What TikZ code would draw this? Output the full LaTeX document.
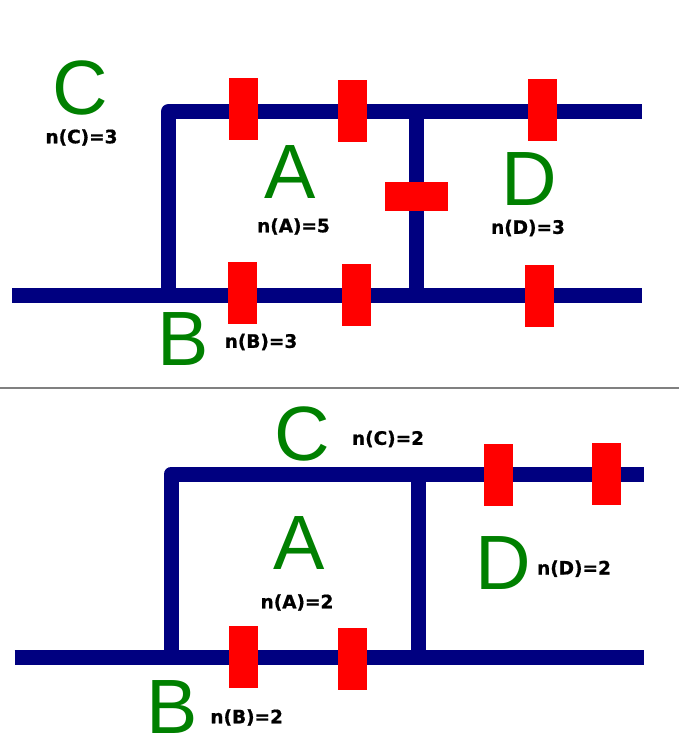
\documentclass[tikz,border=0pt]{standalone}
\usepackage{fontspec}
\setmainfont{Liberation Sans}
\newfontfamily\lblfont{DejaVu Sans Bold}[FakeBold=0.8]
\definecolor{navyc}{RGB}{0,0,128}
\definecolor{greenc}{RGB}{0,128,0}
\begin{document}
\begin{tikzpicture}[x=1pt,y=-1pt,
  track/.style={draw=navyc,line width=15pt,line join=round},
  vbar/.style={fill=red,inner sep=0pt,minimum width=29pt,minimum height=62pt},
  hbar/.style={fill=red,inner sep=0pt,minimum width=63pt,minimum height=29pt},
  big/.style={text=greenc,inner sep=0pt,font=\fontsize{77}{80}\selectfont},
  lbl/.style={inner sep=0pt,font=\lblfont\fontsize{18.5}{20}\selectfont}]
\useasboundingbox (0,0) rectangle (679,749);
% ---------- top panel ----------
\coordinate (tBL) at (168.5,295);
\coordinate (tTL) at (168.5,111.5);
\coordinate (tTR) at (641.5,111.5);
\coordinate (tL) at (12,295);
\coordinate (tR) at (641.5,295);
\coordinate (tJt) at (416.5,111.5);
\coordinate (tJb) at (416.5,295);
\draw[track] (tBL) -- (tTL) -- (tTR);
\draw[track] (tL) -- (tR);
\draw[track] (tJt) -- (tJb);
\node[vbar] (tr1) at (243.5,109) {};
\node[vbar] (tr2) at (352.2,111) {};
\node[vbar] (tr3) at (542.8,110) {};
\node[hbar] (tr4) at (416.7,196.7) {};
\node[vbar] (tb1) at (242.7,292.5) {};
\node[vbar] (tb2) at (356.2,294.7) {};
\node[vbar] (tb3) at (539.5,295.7) {};
\node[big] (tC) at (80,87.5) {C};
\node[lbl] (tnC) at (81.5,137.5) {n(C)=3};
\node[big] (tA) at (290,172) {A};
\node[lbl] (tnA) at (293.5,226.5) {n(A)=5};
\node[big] (tB) at (183.5,339) {B};
\node[lbl] (tnB) at (261,342) {n(B)=3};
\node[big] (tD) at (529.5,179) {D};
\node[lbl] (tnD) at (528,228) {n(D)=3};
% ---------- separator ----------
\coordinate (sL) at (0,388);
\coordinate (sR) at (679,388);
\draw[gray,line width=1.5pt] (sL) -- (sR);
% ---------- bottom panel ----------
\coordinate (bBL) at (171,657);
\coordinate (bTL) at (171,474);
\coordinate (bTR) at (643.5,474);
\coordinate (bL) at (14.5,657);
\coordinate (bR) at (643.5,657);
\coordinate (bJt) at (418.5,474);
\coordinate (bJb) at (418.5,657);
\draw[track] (bBL) -- (bTL) -- (bTR);
\draw[track] (bL) -- (bR);
\draw[track] (bJt) -- (bJb);
\node[vbar] (bb1) at (243.7,657.2) {};
\node[vbar] (bb2) at (352.8,658.7) {};
\node[vbar] (bt1) at (498.8,474.7) {};
\node[vbar] (bt2) at (606.3,473.8) {};
\node[big] (bC) at (302,433.7) {C};
\node[lbl] (bnC) at (388,439) {n(C)=2};
\node[big] (bA) at (299.5,543) {A};
\node[lbl] (bnA) at (297,602.5) {n(A)=2};
\node[big] (bB) at (172,706.7) {B};
\node[lbl] (bnB) at (246.7,717.5) {n(B)=2};
\node[big] (bD) at (503.3,563) {D};
\node[lbl] (bnD) at (574,568.7) {n(D)=2};
\end{tikzpicture}
\end{document}
